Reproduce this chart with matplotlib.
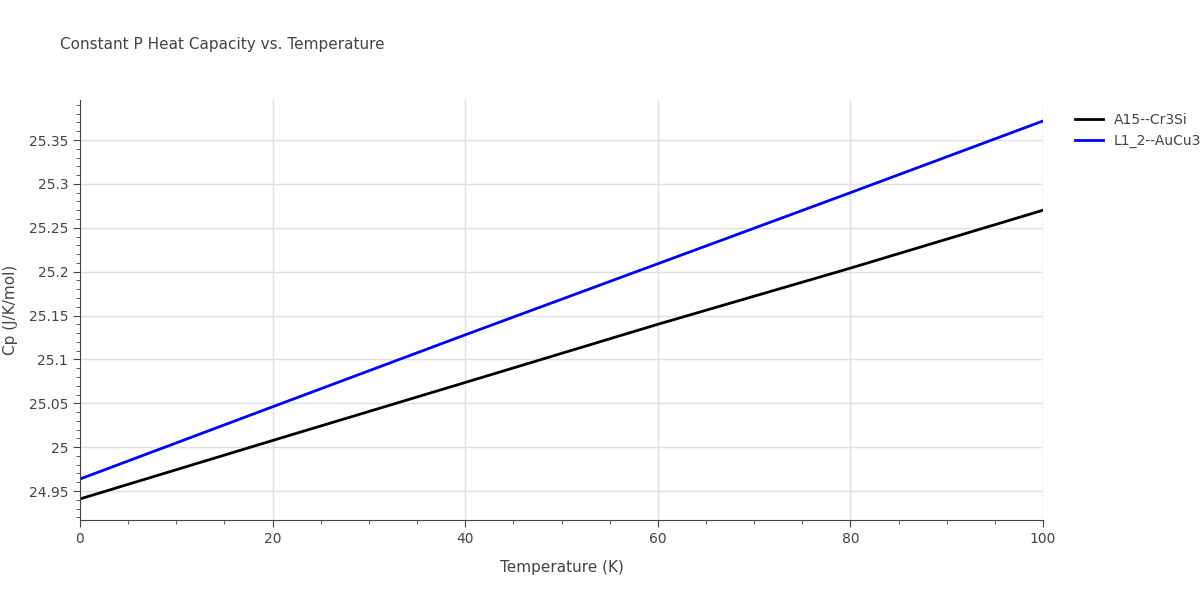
import matplotlib
matplotlib.use("Agg")
import matplotlib.pyplot as plt
from matplotlib.ticker import MultipleLocator, FuncFormatter

temps = [0, 20, 40, 60, 80, 100]
cp_a15 = [24.941, 25.0076, 25.0737, 25.140, 25.204, 25.270]
cp_l12 = [24.9637, 25.046, 25.128, 25.209, 25.290, 25.3717]
names = ["A15--Cr3Si", "L1_2--AuCu3"]

fig = plt.figure(figsize=(12, 6), dpi=100)
ax = fig.add_axes([80/1200, 80/600, (1043-80)/1200, 420/600])
ax.plot(temps, cp_a15, color="black", lw=2, label=names[0])
ax.plot(temps, cp_l12, color="blue", lw=2, label=names[1])
ax.set_xlim(0, 100)
ax.set_ylim(24.917, 25.3956)
ax.xaxis.set_major_locator(MultipleLocator(20))
ax.xaxis.set_minor_locator(MultipleLocator(5))
ax.yaxis.set_major_locator(MultipleLocator(0.05))
ax.yaxis.set_minor_locator(MultipleLocator(0.01))
ax.yaxis.set_major_formatter(FuncFormatter(lambda v, p: f"{v:.3f}".rstrip("0").rstrip(".")))
ax.grid(True, which="major", color="#e0e0e0", lw=1)
for s in ["top", "right"]:
    ax.spines[s].set_visible(False)
for s in ["left", "bottom"]:
    ax.spines[s].set_color("#444444")
ax.tick_params(colors="#444444", labelsize=10, which="both")
ax.tick_params(which="major", length=5)
ax.tick_params(which="minor", length=3)
ax.set_xlabel("Temperature (K)", color="#444444", fontsize=11, labelpad=10)
ax.set_ylabel("Cp (J/K/mol)", color="#444444", fontsize=11, labelpad=8)
fig.text(60/1200, 1-45/600, "Constant P Heat Capacity vs. Temperature", color="#444444", fontsize=11, va="center")
ax.legend(loc="upper left", bbox_to_anchor=(1.02, 1.0), frameon=False, fontsize=10, labelcolor="#444444", handlelength=2)
fig.savefig("out.png")
